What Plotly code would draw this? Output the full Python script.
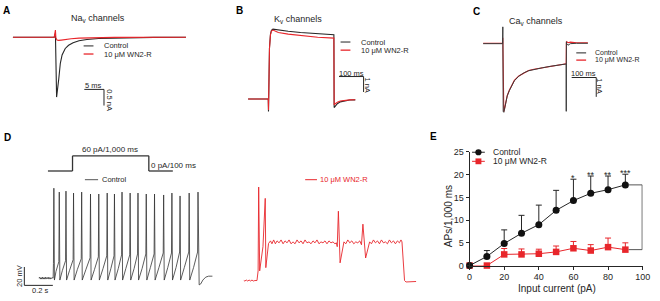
import plotly.graph_objects as go

W, H = 660, 301
FONT = "Liberation Sans, Arial, Helvetica, sans-serif"
BLACK = "#262626"
RED = "#e8262b"

# ---------------- Panel A: Nav currents (ms, nA) ----------------
a_t_ctrl = [-10.8, -0.3, 0, 0.1, 0.25, 0.3, 0.85, 1.25, 1.7, 2.5, 3.35, 4.5, 6, 8, 11, 16, 25, 33.2]
a_i_ctrl = [0, 0, 0.12, -0.6, -1.8, -1.86, -1.3, -0.81, -0.55, -0.35, -0.25, -0.17, -0.11, -0.07, -0.04, -0.02, -0.005, 0]
a_t_drug = [-10.8, -0.3, 0, 0.12, 0.4, 0.8, 1.5, 2.5, 4, 6, 9, 15, 33.2]
a_i_drug = [0, 0, 0.22, -0.02, -0.09, -0.1, -0.09, -0.07, -0.05, -0.03, -0.015, -0.005, 0]

# ---------------- Panel B: Kv currents (ms, nA) ----------------
b_t_ctrl = [-83, -1, 0, 0.6, 1.5, 4, 8, 12, 18, 25, 40, 80, 130, 200, 266, 267, 272, 280, 292, 310, 330, 353]
b_i_ctrl = [0, 0, -0.8, -0.2, 1.5, 3.3, 4.2, 4.45, 4.52, 4.5, 4.45, 4.38, 4.3, 4.22, 4.16, -0.55, -0.45, -0.3, -0.18, -0.1, -0.06, -0.05]
b_t_drug = [-83, -1, 0, 0.6, 1.5, 4, 8, 12, 18, 25, 40, 80, 130, 200, 266, 267, 272, 280, 292, 310, 330, 353]
b_i_drug = [0, 0, -0.7, -0.2, 1.5, 3.3, 4.15, 4.4, 4.46, 4.4, 4.3, 4.2, 4.1, 4.0, 3.94, -0.38, -0.3, -0.2, -0.12, -0.07, -0.05, -0.04]

# ---------------- Panel C: Cav currents (ms, nA) ----------------
c_t_ctrl = [-80, -1, 0, 0.5, 1.5, 4, 6.8, 12, 18, 26.8, 36, 46.8, 65, 86.8, 105, 126.8, 160, 193.6, 225, 257.6, 258, 258.6, 259.5, 265, 275, 300, 346]
c_i_ctrl = [0, 0, 0.87, -1.5, -3.5, -3.55, -3.4, -3.0, -2.7, -2.42, -2.15, -1.92, -1.68, -1.5, -1.4, -1.33, -1.25, -1.17, -1.1, -1.05, -3.5, 0.1, 0.0, -0.08, 0.0, 0.02, 0.02]
c_t_drug = [-80, -1, 0, 1, 4, 6.8, 12, 18, 26.8, 36, 46.8, 65, 86.8, 105, 126.8, 160, 193.6, 225, 257.6, 258.5, 260, 265, 275, 300, 346]
c_i_drug = [0.02, 0.02, 0.3, -3.2, -3.52, -3.38, -2.98, -2.68, -2.4, -2.14, -1.9, -1.67, -1.5, -1.39, -1.32, -1.24, -1.16, -1.09, -1.04, 0.05, 0.1, 0.05, 0.08, 0.05, 0.05]

# ---------------- Panel D: firing (ms, mV) ----------------
d_t_ctrl = [-100, -95, -90, -85, -80, -75, -70, -65, -60, -55, -50, -45, -40, -35, -30, -25, -20, -15, -10, -5, 0,
            2, 5, 9, 20, 40, 43, 47, 65, 87, 90, 94, 115, 140, 143, 147, 170, 197, 200, 204, 230, 259, 262, 266,
            290, 317, 320, 324, 350, 376, 379, 383, 405, 427, 430, 434, 457, 480, 483, 487, 510, 537, 540, 544,
            568, 592, 595, 599, 624, 650, 653, 657, 682, 708, 711, 715, 742, 772, 775, 779, 804, 830, 833, 837,
            862, 887, 890, 894, 920, 951, 954, 958, 985, 1013, 1016, 1020, 1022, 1024, 1035, 1050, 1070, 1090, 1117]
d_v_ctrl = [-65, -64, -66, -64.5, -66, -64, -66, -64.5, -66, -64, -66, -64.5, -65.5, -64, -66, -64.5, -66, -64.5, -65.5, -64.5, -65,
            -50, 28, -67, -58, -48, 24, -67, -57, -47, 25, -67, -57, -46, 23, -67, -56, -45, 24, -67, -56, -44, 22, -67,
            -56, -43, 22, -67, -55, -42, 23, -67, -55, -42, 22, -67, -55, -41, 24, -67, -55, -41, 23, -67,
            -55, -40, 23, -67, -55, -40, 22, -67, -54, -40, 22, -67, -54, -39, 21, -67, -54, -39, 23, -67,
            -54, -38, 20, -67, -54, -38, 23, -67, -54, -38, 24, -66, -58, -72, -71, -67, -64, -63, -63]

d_t_drug = [-97, -90, -80, -70, -60, -50, -40, -30, -20, -5, 3, 7, 14, 37, 53, 57, 76,
            90, 100, 112, 124, 136, 150, 164, 178, 192, 206, 220, 234, 248, 262, 276, 290, 304, 318, 332, 346,
            360, 374, 388, 402, 416, 430, 444, 458, 472, 486, 500, 514, 528, 542, 552,
            558, 566, 578, 592, 605, 618, 632, 646, 660, 674, 688, 702, 716, 728,
            738, 757, 770, 785, 798, 812, 826, 840, 854, 868, 882, 896, 910, 924, 938, 952, 966, 980, 994, 1005, 1012,
            1030, 1040, 1060, 1080, 1100, 1111]
d_v_drug = [-65, -65.5, -64.5, -65.5, -64.5, -65.5, -64.5, -65.5, -65, -65, -55, 31.7, -55, -30, 20, -51.7, -26.7,
            -24, -27, -23, -27, -24, -26, -23, -27, -24, -26, -23, -27, -25, -27, -23, -26, -24, -27, -23, -26,
            -25, -27, -24, -26, -23, -27, -25, -26, -24, -27, -24, -26, -25, -27, -26,
            -30, 6.7, -46.7, -33, -25, -27, -23, -26, -24, -27, -25, -26, -24, -28,
            -6.7, -41.7, -33, -25, -27, -23, -26, -24, -27, -23, -26, -25, -27, -23, -26, -24, -27, -24, -26, -23, -25,
            -65, -66.5, -66.5, -66, -66.5, -66]

# stimulation protocol (schematic)
stim_labels = ["60 pA/1,000 ms", "0 pA/100 ms"]

# ---------------- Panel E: input-output ----------------
e_current = [0, 10, 20, 30, 40, 50, 60, 70, 80, 90]
e_ctrl = [0, 2.0, 4.85, 7.1, 9.0, 12.15, 14.3, 15.9, 16.7, 17.75]
e_ctrl_err = [0, 1.3, 3.0, 3.95, 4.3, 4.4, 4.7, 3.8, 3.0, 2.35]
e_drug = [0, 0, 2.45, 2.45, 2.6, 3.0, 3.8, 3.3, 4.05, 3.5]
e_drug_err = [0, 0, 1.3, 1.2, 1.0, 1.3, 1.5, 1.3, 2.0, 1.5]
e_sig = ["", "", "", "", "", "", "*", "**", "**", "***"]
e_xticks = [0, 20, 40, 60, 80, 100]
e_yticks = [0, 5, 10, 15, 20, 25]


def px(x):
    return x / W


def py(y):
    return 1 - y / H


fig = go.Figure()


def trace_axes(n, xpx, ypx, x0px, xscale, y0px, yscale):
    """Hidden axes whose domain is the pixel box xpx/ypx; x0px/y0px are pixel
    positions of data zero, scales in pixels per data unit."""
    xr = [(xpx[0] - x0px) / xscale, (xpx[1] - x0px) / xscale]
    yr = [(y0px - ypx[1]) / yscale, (y0px - ypx[0]) / yscale]
    s = "" if n == 1 else str(n)
    fig.update_layout(**{
        "xaxis" + s: dict(domain=[px(xpx[0]), px(xpx[1])], range=xr, visible=False,
                          anchor="y" + s, fixedrange=True),
        "yaxis" + s: dict(domain=[py(ypx[1]), py(ypx[0])], range=yr, visible=False,
                          anchor="x" + s, fixedrange=True),
    })
    return "x" + s, "y" + s


def line(xs, ys, color, ax, width=1.1):
    fig.add_trace(go.Scatter(x=xs, y=ys, mode="lines", line=dict(color=color, width=width),
                             xaxis=ax[0], yaxis=ax[1], showlegend=False, hoverinfo="skip",
                             cliponaxis=False))


axA = trace_axes(1, (5, 195), (18, 118), 53.3, 4.0, 33.3, 33.3)
axB = trace_axes(2, (245, 365), (15, 118), 270, 0.25, 97.3, 16.0)
axC = trace_axes(3, (485, 600), (15, 118), 508.3, 0.25, 40.0, 20.0)
axD1 = trace_axes(4, (30, 220), (180, 300), 51, 0.145, 217.5, 1.0)
axD2 = trace_axes(6, (235, 430), (180, 300), 259, 0.145, 220.0, 1.0)

line(a_t_ctrl, a_i_ctrl, BLACK, axA)
line(a_t_drug, a_i_drug, RED, axA)
line(b_t_ctrl, b_i_ctrl, BLACK, axB)
line(b_t_drug, b_i_drug, RED, axB)
line(c_t_drug, c_i_drug, RED, axC)
line(c_t_ctrl, c_i_ctrl, "#3a3a3a", axC, 1.0)
line(d_t_ctrl, d_v_ctrl, "#333333", axD1, 0.8)
line(d_t_drug, d_v_drug, RED, axD2, 0.9)

# ---------------- Panel E chart ----------------
fig.update_layout(
    xaxis5=dict(domain=[px(474.5), px(650.5)], range=[0, 100], anchor="y5",
                tickvals=e_xticks, ticks="outside", ticklen=3, tickwidth=1, tickcolor=BLACK,
                showline=True, linecolor=BLACK, linewidth=1, showgrid=False, zeroline=False,
                tickfont=dict(size=9, color=BLACK, family=FONT), fixedrange=True),
    yaxis5=dict(domain=[py(269.5), py(152)], range=[0, 25], anchor="x5",
                tickvals=e_yticks, ticks="outside", ticklen=3, tickwidth=1, tickcolor=BLACK,
                showline=True, linecolor=BLACK, linewidth=1, showgrid=False, zeroline=False,
                tickfont=dict(size=9, color=BLACK, family=FONT), fixedrange=True),
)
fig.add_trace(go.Scatter(
    x=e_current, y=e_drug, mode="lines+markers", xaxis="x5", yaxis="y5",
    line=dict(color=RED, width=1), marker=dict(symbol="square", size=6.5, color=RED),
    error_y=dict(type="data", array=e_drug_err, arrayminus=[0] * len(e_drug_err), symmetric=False,
                 color=RED, thickness=1, width=3),
    cliponaxis=False, showlegend=False, hoverinfo="skip"))
fig.add_trace(go.Scatter(
    x=e_current, y=e_ctrl, mode="lines+markers", xaxis="x5", yaxis="y5",
    line=dict(color=BLACK, width=1), marker=dict(symbol="circle", size=7, color="#111111"),
    error_y=dict(type="data", array=e_ctrl_err, arrayminus=[0] * len(e_ctrl_err), symmetric=False,
                 color=BLACK, thickness=1, width=3),
    cliponaxis=False, showlegend=False, hoverinfo="skip"))

shapes = []
ann = []


def seg(x0, y0, x1, y1, color=BLACK, w=1.0):
    shapes.append(dict(type="line", xref="paper", yref="paper", x0=px(x0), y0=py(y0),
                       x1=px(x1), y1=py(y1), line=dict(color=color, width=w)))


def text(x, y, s, size=8, color=BLACK, xanchor="left", yanchor="middle", angle=0, bold=False):
    if bold:
        s = "<b>" + s + "</b>"
    ann.append(dict(xref="paper", yref="paper", x=px(x), y=py(y), text=s, showarrow=False,
                    xanchor=xanchor, yanchor=yanchor, textangle=angle, borderpad=0,
                    font=dict(size=size, color=color, family=FONT)))


# panel letters
text(3.5, 6, "A", 10, "#000", "center", bold=True)
text(240, 6, "B", 10, "#000", "center", bold=True)
text(482, 7, "C", 10, "#000", "center", bold=True)
text(4.2, 137.3, "D", 10, "#000", "center", bold=True)
text(437.5, 136, "E", 10, "#000", "center", bold=True)

# titles
text(68, 14, "Na<sub>v</sub> channels", 9)
text(275, 15, "K<sub>v</sub> channels", 9)
text(514, 17, "Ca<sub>v</sub> channels", 9)

# legends A-C
for (lx, ly1, ly2, tx, fs) in [(82, 42.3, 50.7, 101.7, 7.5), (343.3, 38.3, 46.7, 363.3, 7.5),
                               (583, 49.5, 57, 601, 7)]:
    seg(lx, ly1, lx + 10, ly1, "#555555", 1.3)
    seg(lx, ly2, lx + 10, ly2, RED, 1.3)
    text(tx, ly1, "Control", fs)
    text(tx, ly2, "10 μM WN2-R", fs)

# scale bars
seg(82.7, 87.3, 102.7, 87.3)
seg(102.7, 87.3, 102.7, 104)
text(92.5, 83, "5 ms", 7.5, xanchor="center")
text(108.3, 99, "0.5 nA", 7.5, xanchor="center", angle=90)

seg(341.7, 74, 366.7, 74)
seg(366.7, 74, 366.7, 90)
text(354, 70.5, "100 ms", 7.5, xanchor="center")
text(370.5, 82.5, "1 nA", 7.5, xanchor="center", angle=90)

seg(578.3, 75, 603.3, 75)
seg(603.3, 75, 603.3, 95)
text(590.5, 71, "100 ms", 7.5, xanchor="center")
text(607, 84, "1 nA", 7.5, xanchor="center", angle=90)

seg(21.7, 271, 21.7, 290)
seg(21.7, 290, 50.7, 290)
text(16.5, 280, "20 mV", 7.5, xanchor="center", angle=-90)
text(38.5, 295.5, "0.2 s", 7.5, xanchor="center")

# stimulation protocol D
seg(45.7, 171.7, 70.7, 171.7, "#333333", 1.3)
seg(70.7, 171.7, 70.7, 156, "#333333", 1.3)
seg(70.7, 156, 148.3, 156, "#333333", 1.3)
seg(148.3, 156, 148.3, 171.7, "#333333", 1.3)
seg(148.3, 171.7, 172.7, 171.7, "#333333", 1.3)
text(109, 149.3, stim_labels[0], 8, xanchor="center")
text(149.3, 165.7, stim_labels[1], 8)

# D legends
seg(83.3, 180.7, 96.7, 180.7, "#555555", 1.0)
text(99.3, 180.7, "Control", 7.5)
seg(307.3, 180.7, 319.3, 180.7, RED, 1.0)
text(321.7, 180.7, "10 μM WN2-R", 7.5, color=RED)

# E legend
seg(477, 152.3, 490, 152.3, BLACK, 1)
shapes.append(dict(type="circle", xref="paper", yref="paper", x0=px(480.3), x1=px(486.7),
                   y0=py(155.5), y1=py(149.1), fillcolor="#111111", line=dict(width=0)))
text(497, 152.3, "Control", 8.5)
seg(477, 161.7, 490, 161.7, RED, 1)
shapes.append(dict(type="rect", xref="paper", yref="paper", x0=px(480.5), x1=px(486.5),
                   y0=py(164.7), y1=py(158.7), fillcolor=RED, line=dict(width=0)))
text(497, 161.7, "10 μM WN2-R", 8.5)

# E axis titles
text(453, 218, "APs/1,000 ms", 10, xanchor="center", angle=-90)
text(563, 293, "Input current (pA)", 10, xanchor="center")

# significance stars
for xi, yi, ei, s in zip(e_current, e_ctrl, e_ctrl_err, e_sig):
    if s:
        ann.append(dict(xref="x5", yref="y5", x=xi, y=yi + ei + 0.3, text=s, showarrow=False,
                        xanchor="center", yanchor="middle", font=dict(size=9, color=BLACK, family=FONT)))

# bracket
for (x0, y0, x1, y1) in [(92, e_ctrl[-1], 99.7, e_ctrl[-1]), (99.7, e_ctrl[-1], 99.7, e_drug[-1]),
                         (92, e_drug[-1], 99.7, e_drug[-1])]:
    shapes.append(dict(type="line", xref="x5", yref="y5", x0=x0, y0=y0, x1=x1, y1=y1,
                       line=dict(color="#555555", width=1)))
ann.append(dict(xref="x5", yref="y5", x=102.3, y=(e_ctrl[-1] + e_drug[-1]) / 2, text="**",
                showarrow=False, textangle=90, xanchor="center", yanchor="middle",
                font=dict(size=9, color=BLACK, family=FONT)))

fig.update_layout(
    width=W, height=H, margin=dict(l=0, r=0, t=0, b=0),
    paper_bgcolor="white", plot_bgcolor="rgba(0,0,0,0)",
    shapes=shapes, annotations=ann, showlegend=False,
    font=dict(family=FONT, size=9, color=BLACK),
)

fig.write_html("out.html", config={"displayModeBar": False},
               post_script="document.body.style.margin='0px';document.body.style.padding='0px';")
